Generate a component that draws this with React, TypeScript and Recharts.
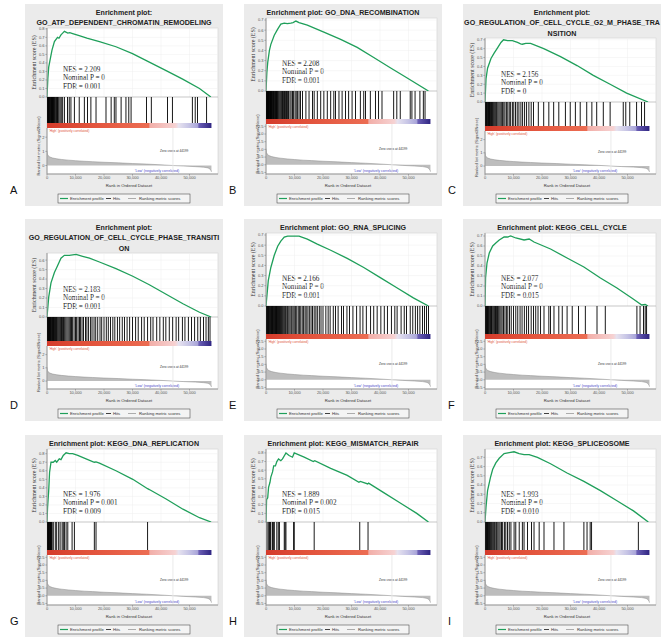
import React from 'react';
import { LineChart, Line, AreaChart, Area, BarChart, Bar, XAxis, YAxis, CartesianGrid, ReferenceLine, ReferenceArea } from 'recharts';

// ---------- shared axis data (rank in thousands) ----------
const xTicks = [0, 10, 20, 30, 40, 50];
const xTickLabels = ['0', '10,000', '20,000', '30,000', '40,000', '50,000'];
const X_MAX = 60;
const RANK_END = 57.7;
const ZERO_CROSS = 44.199;

const esTicks8 = [0, 0.1, 0.2, 0.3, 0.4, 0.5, 0.6, 0.7, 0.8];
const esTicks7 = [0, 0.1, 0.2, 0.3, 0.4, 0.5, 0.6, 0.7];
const esTicks6 = [0, 0.1, 0.2, 0.3, 0.4, 0.5, 0.6];
const rankTicksHalf = [-0.5, 0, 0.5, 1, 1.5, 2, 2.5];
const rankLabelsHalf = ['-0.5', '0.0', '0.5', '1.0', '1.5', '2.0', '2.5'];
const rankTicksInt = [0, 1, 2];
const rankLabelsInt = ['0', '1', '2'];
const RANK_DOMAIN = [-0.6, 2.65];

// ranked list metric (Signal2Noise), same list for all panels: [rank (k), value]
const rankMetric = [
  [0, 1.05], [0.15, 0.8], [0.4, 0.7], [1, 0.6], [2, 0.53], [3.5, 0.47], [5, 0.43], [7.5, 0.38],
  [10, 0.34], [13, 0.3], [16, 0.27], [20, 0.23], [25, 0.19], [30, 0.14], [35, 0.1], [40, 0.05],
  [44.2, 0], [48, -0.04], [52, -0.08], [55, -0.12], [56.5, -0.17], [57.2, -0.25], [57.6, -0.38], [57.7, -0.45],
];

// ---------- titles & statistics ----------
const titleA = ['Enrichment plot:', 'GO_ATP_DEPENDENT_CHROMATIN_REMODELING'];
const titleB = ['Enrichment plot: GO_DNA_RECOMBINATION'];
const titleC = ['Enrichment plot:', 'GO_REGULATION_OF_CELL_CYCLE_G2_M_PHASE_TRA', 'NSITION'];
const titleD = ['Enrichment plot:', 'GO_REGULATION_OF_CELL_CYCLE_PHASE_TRANSITI', 'ON'];
const titleE = ['Enrichment plot: GO_RNA_SPLICING'];
const titleF = ['Enrichment plot: KEGG_CELL_CYCLE'];
const titleG = ['Enrichment plot: KEGG_DNA_REPLICATION'];
const titleH = ['Enrichment plot: KEGG_MISMATCH_REPAIR'];
const titleI = ['Enrichment plot: KEGG_SPLICEOSOME'];

const nesValues = ['2.209', '2.208', '2.156', '2.183', '2.166', '2.077', '1.976', '1.889', '1.993'];
const nominalP = ['0', '0', '0', '0', '0', '0', '0.001', '0.002', '0'];
const fdrValues = ['0.001', '0.001', '0', '0.001', '0.001', '0.015', '0.009', '0.015', '0.010'];
const letters = ['A', 'B', 'C', 'D', 'E', 'F', 'G', 'H', 'I'];

// ---------- running enrichment scores: [rank (k), ES] ----------
const esA = [[0, 0], [0.3, 0.22], [0.6, 0.35], [1.05, 0.43], [1.75, 0.55], [2.6, 0.65], [3.7, 0.7], [4.2, 0.69], [4.9, 0.73], [5.5, 0.75], [6.1, 0.77], [7.3, 0.75], [8, 0.755], [9, 0.745], [11.3, 0.72], [14, 0.69], [18.4, 0.65], [24.2, 0.59], [30, 0.51], [35.9, 0.41], [41.8, 0.31], [47.6, 0.21], [53.5, 0.1], [57.5, 0]];
const esB = [[0, 0], [0.3, 0.18], [0.6, 0.28], [1.2, 0.4], [1.7, 0.46], [2.9, 0.55], [4.1, 0.61], [5.2, 0.66], [6.4, 0.67], [7.5, 0.665], [8.7, 0.67], [9.5, 0.675], [10.5, 0.69], [11.6, 0.675], [14.5, 0.65], [20.3, 0.58], [26.2, 0.51], [32, 0.43], [37.8, 0.33], [43.6, 0.23], [49.4, 0.13], [57, 0]];
const esC = [[0, 0], [0.35, 0.26], [0.9, 0.38], [2.1, 0.49], [3.2, 0.55], [4.4, 0.61], [5.6, 0.67], [6.5, 0.7], [7.9, 0.69], [9.6, 0.69], [11.4, 0.67], [12.5, 0.655], [13.1, 0.65], [14.3, 0.66], [16, 0.66], [20.6, 0.6], [26.5, 0.51], [32.3, 0.41], [38, 0.3], [43.9, 0.2], [49.7, 0.1], [57.2, 0]];
const esD = [[0, 0], [0.6, 0.21], [1.4, 0.36], [2.6, 0.47], [3.7, 0.54], [4.9, 0.62], [6.1, 0.65], [7.8, 0.65], [10.2, 0.66], [12.5, 0.64], [14.9, 0.62], [18.4, 0.58], [24.2, 0.51], [30.1, 0.43], [35.9, 0.34], [41.8, 0.24], [47.7, 0.14], [53.5, 0.05], [57.6, 0]];
const esE = [[0, 0], [0.35, 0.11], [0.8, 0.25], [1.7, 0.38], [2.9, 0.5], [4.1, 0.59], [5.2, 0.64], [6.4, 0.68], [7.6, 0.69], [9.9, 0.69], [11.6, 0.69], [14.5, 0.66], [18, 0.61], [22.7, 0.55], [28.5, 0.47], [34.3, 0.38], [40.1, 0.28], [45.9, 0.18], [51.7, 0.08], [57, 0]];
const esF = [[0, 0], [0.2, 0.28], [0.7, 0.43], [1.5, 0.53], [2.7, 0.6], [3.8, 0.63], [5, 0.66], [6.7, 0.69], [7.9, 0.69], [9, 0.7], [10.8, 0.68], [13.7, 0.66], [15.5, 0.67], [17.2, 0.64], [23, 0.57], [28.8, 0.48], [34.7, 0.39], [40.5, 0.28], [46.3, 0.18], [52, 0.07], [55, 0.01], [56.2, 0.015], [57.2, 0]];
const esG = [[0, 0], [0.2, 0.17], [0.6, 0.37], [0.9, 0.58], [1.4, 0.7], [2.2, 0.7], [2.9, 0.72], [3.4, 0.7], [4.3, 0.74], [4.9, 0.73], [5.7, 0.78], [6.7, 0.81], [7.8, 0.8], [9, 0.8], [10.8, 0.78], [13.7, 0.74], [16.6, 0.7], [17.2, 0.705], [18.4, 0.69], [24.2, 0.6], [30.1, 0.5], [35.3, 0.39], [35.9, 0.38], [41.8, 0.27], [47.7, 0.15], [53.5, 0.05], [57.6, 0]];
const esH = [[0, 0], [0.2, 0.26], [0.6, 0.28], [0.9, 0.4], [1.4, 0.46], [1.7, 0.52], [2.3, 0.58], [2.7, 0.65], [3.3, 0.65], [3.8, 0.7], [4.4, 0.73], [5.2, 0.71], [5.8, 0.73], [7, 0.8], [8.1, 0.77], [9.3, 0.75], [9.9, 0.8], [13.4, 0.75], [16.6, 0.7], [17.1, 0.71], [22.7, 0.62], [28.5, 0.54], [32.6, 0.46], [33.1, 0.47], [35.7, 0.44], [36, 0.45], [41.3, 0.34], [47.1, 0.22], [52.9, 0.1], [57, 0]];
const esI = [[0, 0], [0.35, 0.16], [0.9, 0.34], [1.9, 0.48], [2.7, 0.57], [3.8, 0.64], [5, 0.69], [6.7, 0.74], [8.5, 0.75], [10.2, 0.76], [12, 0.74], [13.7, 0.73], [15.5, 0.73], [18.4, 0.7], [23, 0.63], [28.8, 0.53], [34.7, 0.44], [40.5, 0.34], [46.3, 0.23], [52.1, 0.12], [57.3, 0]];

// ---------- gene-set hit positions (rank, k) ----------
const hitsA = [0.1, 0.25, 0.4, 0.5, 0.65, 0.8, 0.95, 1.1, 1.3, 1.45, 1.6, 1.8, 1.95, 2.1, 2.3, 2.5, 2.7, 2.9, 3.2, 3.4, 3.7, 3.9, 4.2, 4.6, 5.0, 5.5, 6.1, 7.2, 7.8, 8.4, 9.6, 11.3, 13.1, 14.2, 15.4, 17.2, 20.7, 22.5, 23.6, 24.2, 26, 27.7, 28.7, 29.5, 34.9, 36.6, 42.3, 44, 51, 52, 52.8, 56];
const hitsB = [0.1, 0.25, 0.35, 0.5, 0.6, 0.75, 0.9, 1.0, 1.15, 1.3, 1.45, 1.6, 1.75, 1.9, 2.05, 2.2, 2.4, 2.55, 2.7, 2.9, 3.1, 3.3, 3.5, 3.7, 3.9, 4.1, 4.3, 4.6, 4.9, 5.2, 5.5, 5.8, 6.1, 6.5, 6.8, 7.2, 7.5, 7.9, 8.4, 8.8, 9.3, 9.7, 10.2, 10.6, 11.1, 11.6, 12.1, 12.8, 14, 15.1, 16.3, 16.9, 18, 19.2, 20.3, 21.5, 22.7, 23.8, 24.4, 25.6, 26.7, 27.9, 29, 30.2, 31.4, 33.1, 34.3, 34.9, 36.6, 38.4, 39.5, 40.7, 44.8, 45.9, 47.1, 50.6, 51.2, 52.3, 54, 55.2, 55.8];
const hitsC = [0.1, 0.3, 0.45, 0.6, 0.8, 1.0, 1.2, 1.4, 1.6, 1.8, 2.0, 2.3, 2.6, 2.9, 3.2, 3.5, 3.8, 4.1, 4.5, 4.9, 5.3, 5.7, 6.1, 6.6, 7.0, 7.5, 8.0, 8.5, 9.0, 9.6, 10.1, 10.7, 11.3, 11.9, 12.6, 13.2, 13.9, 14.6, 15.4, 16.2, 17.0, 18.7, 20.6, 22.4, 24.1, 25.9, 28.2, 29.9, 31.7, 33.4, 35.7, 37.5, 39.2, 41.5, 43.9, 48.5, 49.4, 50.8, 53.2, 54.9, 56];
const hitsD = [0.1, 0.25, 0.4, 0.55, 0.7, 0.85, 1.0, 1.15, 1.3, 1.5, 1.7, 1.9, 2.1, 2.3, 2.5, 2.7, 2.9, 3.1, 3.3, 3.6, 3.9, 4.2, 4.5, 4.8, 5.1, 5.4, 5.8, 6.2, 6.6, 7.0, 7.4, 7.8, 8.2, 8.6, 9.0, 9.5, 10.0, 10.4, 10.9, 11.4, 11.8, 12.3, 12.8, 13.5, 14.0, 14.6, 15.3, 15.8, 16.5, 17.1, 17.8, 18.6, 19.2, 20.0, 20.8, 21.5, 22.3, 23.1, 23.8, 24.7, 25.5, 26.4, 27.2, 28.1, 29.0, 30.0, 31.1, 32.0, 33.2, 34.1, 35.3, 36.4, 37.2, 38.5, 39.6, 40.8, 41.7, 42.9, 44.1, 45.3, 46.2, 47.5, 48.4, 49.6, 50.7, 51.8, 52.9, 53.8, 54.9, 55.8, 56.6, 57.2];
const hitsE = [0.1, 0.3, 0.5, 0.7, 0.9, 1.1, 1.3, 1.5, 1.7, 1.9, 2.1, 2.3, 2.5, 2.7, 2.9, 3.1, 3.3, 3.5, 3.7, 3.9, 4.1, 4.3, 4.5, 4.7, 5.0, 5.2, 5.5, 5.7, 6.0, 6.3, 6.6, 6.9, 7.3, 7.6, 8.0, 8.4, 8.8, 9.1, 9.5, 9.9, 10.4, 10.8, 11.3, 11.7, 12.2, 12.7, 13.2, 13.7, 14.1, 14.7, 15.2, 15.8, 16.3, 16.9, 17.5, 18.0, 18.7, 19.3, 20.0, 21.0, 21.8, 22.5, 23.6, 24.4, 25.3, 26.5, 27.2, 28.4, 29.3, 30.5, 31.8, 33.0, 34.0, 35.2, 36.7, 37.8, 39.0, 40.3, 41.5, 42.6, 44.0, 45.2, 46.0, 47.4, 48.5, 49.3, 50.6, 51.5, 52.4, 53.2, 54.0, 54.9, 55.6, 56.3, 57.0];
const hitsF = [0.1, 0.3, 0.5, 0.7, 0.9, 1.1, 1.3, 1.5, 1.8, 2.0, 2.3, 2.5, 2.8, 3.1, 3.4, 3.7, 4.0, 4.4, 4.8, 5.2, 5.6, 6.0, 6.5, 7.0, 7.5, 8.0, 8.6, 9.2, 10.0, 10.8, 11.5, 12.3, 13.0, 13.8, 14.6, 15.3, 16.2, 17.0, 17.8, 18.6, 19.5, 20.7, 22.4, 23, 24.2, 25.9, 27.1, 28.8, 30.6, 32.8, 35.2, 39.3, 42.2, 53.3, 54.4, 55.6, 56.2, 56.7];
const hitsG = [0.2, 0.35, 0.5, 0.65, 0.8, 0.95, 1.1, 1.25, 1.4, 1.6, 1.8, 2.2, 2.9, 3.4, 4.1, 4.6, 5.3, 5.7, 6.1, 6.7, 7.3, 8.8, 9.6, 16.6, 17.2, 35.3];
const hitsH = [0.35, 0.8, 1.2, 1.5, 1.7, 2.3, 2.7, 2.9, 3.8, 4.3, 4.7, 6.4, 6.7, 7.0, 9.7, 9.9, 16.9, 32.9, 35.8];
const hitsI = [0.1, 0.3, 0.5, 0.7, 0.9, 1.1, 1.3, 1.5, 1.7, 2.0, 2.2, 2.5, 2.8, 3.1, 3.4, 3.8, 4.1, 4.5, 4.9, 5.3, 5.8, 6.2, 6.8, 7.3, 7.9, 8.5, 9.1, 10.2, 10.8, 12, 13.1, 13.7, 14.9, 16.3, 17.2, 19, 20.7, 24.2, 27.7, 34.7, 35.8, 36.9, 37.4, 53.8];

const esMaxes = [0.81, 0.72, 0.72, 0.675, 0.72, 0.73, 0.855, 0.845, 0.79];

// colour bar of the ranked list (style)
const barStops = [
  [0, '#d43b2b'], [0.25, '#e2523b'], [0.62, '#ec6d53'], [0.625, '#f2aea8'], [0.78, '#f6d2d2'],
  [0.8, '#e6e2ef'], [0.86, '#c8c6e6'], [0.915, '#aaa6d9'], [0.925, '#6a5eb4'], [1, '#2f2582'],
];

const panels = [
  { title: titleA, es: esA, hits: hitsA, esTicks: esTicks8, rankTicks: rankTicksInt, rankLabels: rankLabelsInt },
  { title: titleB, es: esB, hits: hitsB, esTicks: esTicks7, rankTicks: rankTicksHalf, rankLabels: rankLabelsHalf },
  { title: titleC, es: esC, hits: hitsC, esTicks: esTicks7, rankTicks: rankTicksInt, rankLabels: rankLabelsInt },
  { title: titleD, es: esD, hits: hitsD, esTicks: esTicks6, rankTicks: rankTicksInt, rankLabels: rankLabelsInt },
  { title: titleE, es: esE, hits: hitsE, esTicks: esTicks7, rankTicks: rankTicksHalf, rankLabels: rankLabelsHalf },
  { title: titleF, es: esF, hits: hitsF, esTicks: esTicks7, rankTicks: rankTicksHalf, rankLabels: rankLabelsHalf },
  { title: titleG, es: esG, hits: hitsG, esTicks: esTicks8, rankTicks: rankTicksHalf, rankLabels: rankLabelsHalf },
  { title: titleH, es: esH, hits: hitsH, esTicks: esTicks8, rankTicks: rankTicksHalf, rankLabels: rankLabelsHalf },
  { title: titleI, es: esI, hits: hitsI, esTicks: esTicks7, rankTicks: rankTicksHalf, rankLabels: rankLabelsHalf },
];

// ---------- layout ----------
const COLS = [25, 244, 463];
const ROWS = [4, 219, 435];
const BW = 198;
const BH = 202;
const PL = 22;
const PR = 193;
const PB = 170;
const YW = 10;
const PAD = 4;
const HIT_W = 0.9;
const GREEN = '#1f9f5a';
const SANS = '"Liberation Sans", Arial, Helvetica, sans-serif';
const SERIF = '"Liberation Serif", "Times New Roman", serif';
const tickStyle = { fontSize: 4, fill: '#555' };

// hit marker: keeps the library-computed centre, height and baseline; fixes the stroke width
const HitShape = (props: any) => {
  const { x, width, y, height } = props;
  if (x == null || y == null) return null;
  const cx = x + (width || 0) / 2;
  return <rect x={cx - HIT_W / 2} y={y} width={HIT_W} height={height} fill="#000" />;
};

function Panel({ p, idx }: { p: any; idx: number }) {
  const bx = COLS[idx % 3];
  const by = ROWS[Math.floor(idx / 3)];
  const n = p.title.length;
  const top = 14 + 10 * (n - 1);
  const total = PB - top;
  const esHgt = Math.round(total * 0.47);
  const hitsHgt = Math.round(total * 0.18);
  const barHgt = 5;
  const rankHgt = total - esHgt - hitsHgt - barHgt;
  const esBottom = top + esHgt;
  const barBottom = esBottom + hitsHgt + barHgt;
  const barNeg = barHgt / hitsHgt;
  const esMid = top + esHgt / 2;
  const rankMid = barBottom + rankHgt / 2;
  const esData = p.es.map((d: number[]) => ({ r: d[0], es: d[1] }));
  const hitData = p.hits.map((r: number) => ({ r, hit: 1 }));
  const rankData = rankMetric.map((d) => ({ r: d[0], v: d[1] }));
  const gid = `cbar-${idx}`;

  return (
    <>
      <div style={{ position: 'absolute', left: bx - 15, top: by + 181, fontSize: 11, lineHeight: '11px', fontFamily: SANS, color: '#111' }}>
        {letters[idx]}
      </div>
      <div style={{ position: 'absolute', left: bx, top: by, width: BW, height: BH }}>
        <svg width={BW} height={BH} style={{ position: 'absolute', left: 0, top: 0 }}>
          <rect x={0} y={0} width={BW} height={BH} fill="#ebebeb" />
          <rect x={PL} y={top} width={PR - PL} height={PB - top} fill="#ffffff" stroke="#c4c4c4" strokeWidth={0.5} />
          {p.title.map((t: string, k: number) => (
            <text key={k} x={BW / 2} y={10.7 + 10.4 * k} textAnchor="middle" fontSize={7.1} fontWeight="bold" fill="#222" fontFamily={SANS}>
              {t}
            </text>
          ))}
          <text transform={`rotate(-90 8.5 ${esMid})`} x={8.5} y={esMid} textAnchor="middle" dominantBaseline="central" fontSize={6} fontFamily={SERIF} fill="#333">
            Enrichment score (ES)
          </text>
          <text transform={`rotate(-90 13.5 ${rankMid - 5})`} x={13.5} y={rankMid - 5} textAnchor="middle" dominantBaseline="central" fontSize={4} fontFamily={SANS} fill="#444">
            Ranked list metric (Signal2Noise)
          </text>
          <text x={PL + 16} y={esBottom - 25.5} fontSize={7.2} fontFamily={SERIF} fill="#222">{`NES = ${nesValues[idx]}`}</text>
          <text x={PL + 16} y={esBottom - 16.8} fontSize={7.2} fontFamily={SERIF} fill="#222">{`Nominal P = ${nominalP[idx]}`}</text>
          <text x={PL + 16} y={esBottom - 8} fontSize={7.2} fontFamily={SERIF} fill="#222">{`FDR = ${fdrValues[idx]}`}</text>
          <text x={PL + 2} y={barBottom + 3.8} fontSize={3.3} fontFamily={SANS} fill="#e0553a">'High' (positively correlated)</text>
          <text x={PL + 113} y={barBottom + rankHgt * 0.52} fontSize={3.2} fontFamily={SANS} fill="#333">{`Zero cross at ${Math.round(ZERO_CROSS * 1000)}`}</text>
          <text x={132} y={PB - 2.5} textAnchor="middle" fontSize={3.6} fontFamily={SANS} fill="#4a4ac8">'Low' (negatively correlated)</text>
          <text x={104} y={183} textAnchor="middle" fontSize={4.2} fontFamily={SANS} fill="#333">Rank in Ordered Dataset</text>
          <rect x={33} y={190} width={132} height={9} fill="#f4f4f4" stroke="#333" strokeWidth={0.5} />
          <line x1={35} y1={194.5} x2={43} y2={194.5} stroke={GREEN} strokeWidth={1.2} />
          <text x={45} y={196} fontSize={4.2} fontFamily={SANS} fill="#333">Enrichment profile</text>
          <line x1={81} y1={194.5} x2={86} y2={194.5} stroke="#111" strokeWidth={0.8} />
          <text x={88} y={196} fontSize={4.2} fontFamily={SANS} fill="#333">Hits</text>
          <line x1={103} y1={194.5} x2={111} y2={194.5} stroke="#999" strokeWidth={0.8} />
          <text x={114} y={196} fontSize={4.2} fontFamily={SANS} fill="#333">Ranking metric scores</text>
        </svg>

        <div style={{ position: 'absolute', left: 0, top: top - PAD }}>
          <LineChart width={BW} height={esHgt + 2 * PAD} data={esData} margin={{ top: PAD, right: BW - PR, bottom: PAD, left: PL - YW }}>
            <CartesianGrid stroke="#efefef" strokeWidth={0.5} />
            <XAxis dataKey="r" type="number" domain={[0, X_MAX]} ticks={xTicks} hide allowDataOverflow />
            <YAxis type="number" domain={[0, esMaxes[idx]]} ticks={p.esTicks} interval={0} width={YW} tick={tickStyle} tickSize={1.5} tickMargin={1} stroke="#999" tickFormatter={(v: number) => v.toFixed(1)} allowDataOverflow />
            <ReferenceLine y={0} stroke="#999" strokeWidth={0.5} />
            <Line dataKey="es" type="linear" stroke={GREEN} strokeWidth={1.3} dot={false} isAnimationActive={false} />
          </LineChart>
        </div>

        <div style={{ position: 'absolute', left: 0, top: esBottom }}>
          <BarChart width={BW} height={hitsHgt + barHgt} data={hitData} margin={{ top: 0, right: BW - PR, bottom: 0, left: PL }} barGap={0} barCategoryGap={0}>
            <defs>
              <linearGradient id={gid} x1="0" y1="0" x2="1" y2="0">
                {barStops.map((s, k) => (
                  <stop key={k} offset={s[0] as number} stopColor={s[1] as string} />
                ))}
              </linearGradient>
            </defs>
            <XAxis dataKey="r" type="number" domain={[0, X_MAX]} hide allowDataOverflow />
            <YAxis type="number" domain={[-barNeg, 1]} hide allowDataOverflow />
            <Bar dataKey="hit" fill="#000000" shape={HitShape} isAnimationActive={false} />
            <ReferenceArea x1={0} x2={RANK_END} y1={-barNeg} y2={0} fill={`url(#${gid})`} fillOpacity={1} stroke="none" ifOverflow="visible" />
          </BarChart>
        </div>

        <div style={{ position: 'absolute', left: 0, top: barBottom - PAD }}>
          <AreaChart width={BW} height={rankHgt + 14 + PAD} data={rankData} margin={{ top: PAD, right: BW - PR, bottom: 0, left: PL - YW }}>
            <XAxis dataKey="r" type="number" domain={[0, X_MAX]} ticks={xTicks} interval={0} height={14} tick={tickStyle} tickSize={1.5} tickMargin={1} stroke="#999" tickFormatter={(v: number) => xTickLabels[xTicks.indexOf(v)]} allowDataOverflow />
            <YAxis type="number" domain={RANK_DOMAIN} ticks={p.rankTicks} interval={0} width={YW} tick={tickStyle} tickSize={1.5} tickMargin={1} stroke="#999" tickFormatter={(v: number) => p.rankLabels[p.rankTicks.indexOf(v)]} allowDataOverflow />
            <ReferenceLine x={ZERO_CROSS} stroke="#e4e4e4" strokeWidth={0.8} />
            <Area dataKey="v" type="linear" fill="#bdbdbd" fillOpacity={1} stroke="#8a8a8a" strokeWidth={0.5} dot={false} isAnimationActive={false} />
          </AreaChart>
        </div>
      </div>
    </>
  );
}

export default function App() {
  return (
    <div style={{ position: 'absolute', left: 0, top: 0, width: 670, height: 643, background: '#ffffff', overflow: 'hidden', fontFamily: SANS }}>
      {panels.map((p, i) => (
        <Panel key={i} p={p} idx={i} />
      ))}
    </div>
  );
}
